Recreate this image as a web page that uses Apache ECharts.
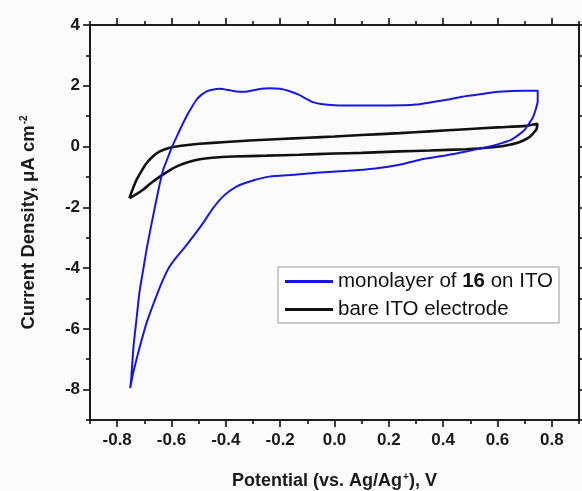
<!DOCTYPE html>
<html>
<head>
<meta charset="utf-8">
<script src="https://cdn.jsdelivr.net/npm/echarts@6/dist/echarts.min.js"></script>
<style>html,body{margin:0;padding:0;background:#fbfbfb;}#c{width:582px;height:491px;}</style>
</head>
<body>
<div id="c"></div>
<script>
// ---- data (Potential V, Current density µA cm^-2), traced in scan order ----
var seriesNames = ['monolayer', 'bare'];
var monolayerCV = [
  [-0.752,-7.95],[-0.748,-7.6],[-0.740,-6.6],[-0.729,-5.7],[-0.718,-4.8],[-0.705,-4.1],
  [-0.690,-3.3],[-0.668,-2.3],[-0.645,-1.3],[-0.631,-0.77],[-0.615,-0.40],[-0.600,-0.05],
  [-0.582,0.30],[-0.560,0.72],[-0.545,0.99],[-0.525,1.30],[-0.508,1.54],[-0.490,1.70],
  [-0.472,1.81],[-0.450,1.87],[-0.423,1.90],[-0.390,1.86],[-0.361,1.81],[-0.330,1.80],
  [-0.300,1.85],[-0.270,1.90],[-0.240,1.92],[-0.200,1.90],[-0.165,1.82],[-0.130,1.70],
  [-0.100,1.55],[-0.080,1.46],[-0.050,1.40],[0.000,1.36],[0.100,1.35],[0.200,1.35],
  [0.300,1.38],[0.400,1.52],[0.470,1.64],[0.550,1.74],[0.600,1.80],[0.650,1.83],
  [0.700,1.84],[0.748,1.84],
  [0.748,1.50],[0.740,1.20],[0.730,0.95],[0.717,0.77],[0.700,0.55],[0.680,0.40],
  [0.650,0.22],[0.618,0.12],[0.580,0.02],[0.545,-0.05],[0.480,-0.17],[0.423,-0.27],
  [0.312,-0.44],[0.239,-0.60],[0.150,-0.72],[0.050,-0.80],[-0.067,-0.86],[-0.150,-0.93],
  [-0.239,-0.99],[-0.300,-1.12],[-0.361,-1.32],[-0.410,-1.64],[-0.447,-2.03],[-0.484,-2.52],
  [-0.520,-2.96],[-0.550,-3.30],[-0.580,-3.62],[-0.607,-3.95],[-0.631,-4.38],[-0.656,-4.93],
  [-0.692,-5.81],[-0.723,-6.80],[-0.741,-7.45],[-0.752,-7.95]
];
var bareCV = [
  [-0.755,-1.70],[-0.745,-1.45],[-0.729,-1.10],[-0.710,-0.80],[-0.692,-0.55],[-0.668,-0.32],
  [-0.643,-0.16],[-0.610,-0.05],[-0.582,0.00],[-0.540,0.05],[-0.496,0.09],[-0.400,0.15],
  [-0.312,0.20],[-0.200,0.25],[-0.100,0.29],[0.000,0.33],[0.100,0.38],[0.239,0.44],
  [0.350,0.50],[0.484,0.57],[0.600,0.63],[0.705,0.68],[0.747,0.75],
  [0.745,0.62],[0.742,0.55],[0.730,0.42],[0.717,0.31],[0.695,0.20],[0.668,0.11],
  [0.640,0.05],[0.607,0.00],[0.550,-0.05],[0.484,-0.09],[0.350,-0.13],[0.239,-0.16],
  [0.100,-0.21],[0.000,-0.23],[-0.129,-0.27],[-0.250,-0.30],[-0.375,-0.33],[-0.450,-0.37],
  [-0.496,-0.42],[-0.540,-0.52],[-0.582,-0.66],[-0.610,-0.80],[-0.643,-0.99],[-0.675,-1.20],
  [-0.705,-1.42],[-0.735,-1.60],[-0.755,-1.70]
];
var xMajorTicks = [-0.8,-0.6,-0.4,-0.2,0.0,0.2,0.4,0.6,0.8];
var xMinorTicks = [-0.9,-0.7,-0.5,-0.3,-0.1,0.1,0.3,0.5,0.7,0.9];
var yMajorTicks = [-8,-6,-4,-2,0,2,4];
var yMinorTicks = [-9,-7,-5,-3,-1,1,3];
var legendLabels = {monolayer: 'monolayer of {b|16} on ITO', bare: 'bare ITO electrode'};

var FONT = "'Liberation Sans', Arial, sans-serif";
var axisLineStyle = {color:'#111', width:1.6};
function xAx(pos, ticks, len, labels){
  return {
    type:'value', min:-0.9, max:0.9, position:pos, offset:0, gridIndex:0,
    axisLine:{show:true, onZero:false, lineStyle:axisLineStyle},
    axisTick:{show:true, inside:false, length:len, customValues:ticks, lineStyle:{color:'#111', width:1.6}},
    axisLabel: labels ? {show:true, customValues:ticks, margin:12, fontFamily:FONT, fontWeight:'bold', fontSize:17, color:'#1a1a1a',
      formatter:function(v){ return (Math.abs(v)<1e-9?0:v).toFixed(1); }} : {show:false},
    splitLine:{show:false}
  };
}
function yAx(pos, ticks, len, labels){
  return {
    type:'value', min:-9, max:4, position:pos, offset:0, gridIndex:0,
    axisLine:{show:true, onZero:false, lineStyle:axisLineStyle},
    axisTick:{show:true, inside:false, length:len, customValues:ticks, lineStyle:{color:'#111', width:1.6}},
    axisLabel: labels ? {show:true, customValues:ticks, margin:10, fontFamily:FONT, fontWeight:'bold', fontSize:17, color:'#1a1a1a'} : {show:false},
    splitLine:{show:false}
  };
}
var xAxes = [xAx('bottom', xMajorTicks, 7, true), xAx('bottom', xMinorTicks, 4, false),
             xAx('top', xMajorTicks, 7, false), xAx('top', xMinorTicks, 4, false)];
var yAxes = [yAx('left', yMajorTicks, 7, true), yAx('left', yMinorTicks, 4, false),
             yAx('right', yMajorTicks, 7, false), yAx('right', yMinorTicks, 4, false)];
var supStyle = {fontFamily:FONT, fontWeight:'bold', fontSize:10, verticalAlign:'top', padding:[0,0,0,1]};
xAxes[0].name = 'Potential (vs. Ag/Ag{sup|+}), V';
xAxes[0].nameLocation = 'middle';
xAxes[0].nameGap = 52;
xAxes[0].nameTextStyle = {fontFamily:FONT, fontWeight:'bold', fontSize:18, color:'#1a1a1a', rich:{sup:supStyle}};
yAxes[0].name = 'Current Density, μA cm{sup|-2}';
yAxes[0].nameLocation = 'middle';
yAxes[0].nameRotate = 90;
yAxes[0].nameGap = 52;
yAxes[0].nameTextStyle = {fontFamily:FONT, fontWeight:'bold', fontSize:18.5, color:'#1a1a1a', rich:{sup:supStyle}};

var chart = echarts.init(document.getElementById('c'), null, {renderer:'canvas'});
chart.setOption({
  backgroundColor:'#fbfbfb',
  animation:false,
  grid:{left:90, right:3, top:25, bottom:71, containLabel:false, outerBoundsMode:'none'},
  xAxis:xAxes,
  yAxis:yAxes,
  legend:{
    orient:'vertical', left:278, top:267,
    backgroundColor:'#ffffff', borderColor:'#999', borderWidth:1,
    padding:[4,6,3,7], itemGap:7, itemWidth:48, itemHeight:3, icon:'rect',
    data:seriesNames,
    formatter:function(n){ return legendLabels[n]; },
    textStyle:{fontFamily:FONT, fontSize:20.5, color:'#111', lineHeight:18,
      rich:{b:{fontFamily:FONT, fontSize:20.5, fontWeight:'bold', color:'#111', lineHeight:18}}}
  },
  series:[
    {name:'monolayer', type:'line', data:monolayerCV, showSymbol:false, symbol:'none', smooth:0.2,
     color:'#1818dc', lineStyle:{color:'#1818dc', width:2}, z:3},
    {name:'bare', type:'line', data:bareCV, showSymbol:false, symbol:'none', smooth:0.2,
     color:'#111', lineStyle:{color:'#111', width:2.6}, z:2}
  ]
});
</script>
</body>
</html>
